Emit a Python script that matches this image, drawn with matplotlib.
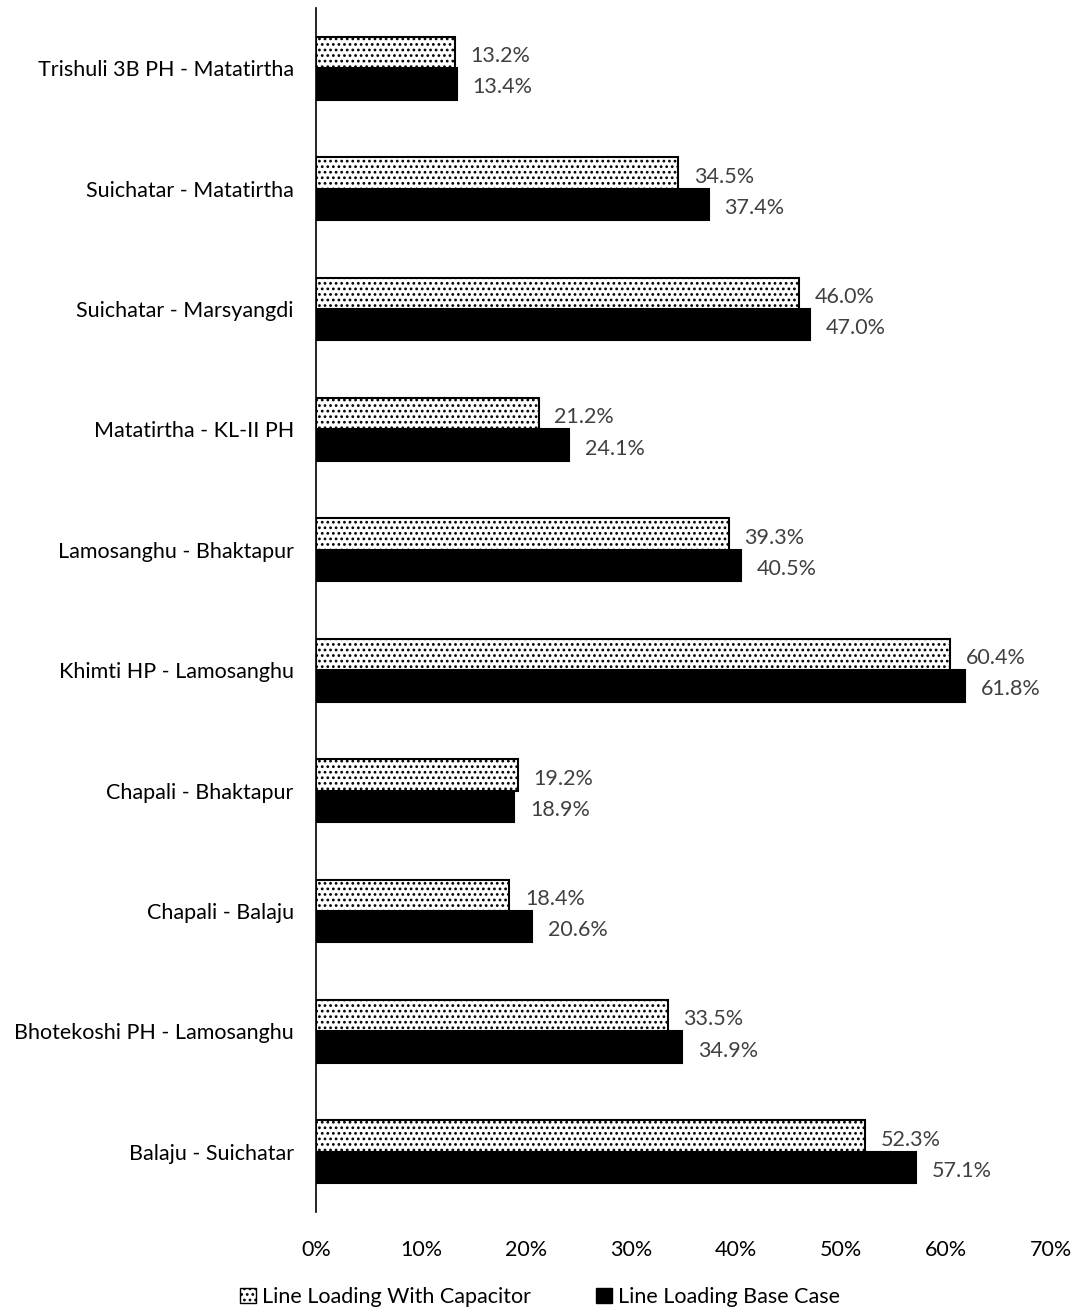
import numpy as np
import matplotlib.pyplot as plt
from matplotlib.ticker import MultipleLocator, FuncFormatter
from matplotlib.patches import Patch

plt.rcParams['font.family'] = ['Lato', 'DejaVu Sans']
plt.rcParams['hatch.linewidth'] = 1.2

# bottom to top, as drawn on the y axis
lines = ["Balaju - Suichatar", "Bhotekoshi PH - Lamosanghu", "Chapali - Balaju",
         "Chapali - Bhaktapur", "Khimti HP - Lamosanghu", "Lamosanghu - Bhaktapur",
         "Matatirtha - KL-II PH", "Suichatar - Marsyangdi", "Suichatar - Matatirtha",
         "Trishuli 3B PH - Matatirtha"]
with_capacitor = [52.3, 33.5, 18.4, 19.2, 60.4, 39.3, 21.2, 46.0, 34.5, 13.2]
base_case = [57.1, 34.9, 20.6, 18.9, 61.8, 40.5, 24.1, 47.0, 37.4, 13.4]

fig = plt.figure(figsize=(10.81, 13.11), dpi=100)
ax = fig.add_axes([316/1081, 1-1212/1311, (1051-316)/1081, (1212-8)/1311])

y = np.arange(len(lines))
h = 0.26
ax.barh(y - h/2, base_case, h, color="black", edgecolor="black", linewidth=1.5)
ax.barh(y + h/2, with_capacitor, h, color="white", edgecolor="black",
        linewidth=1.5, hatch="...")

fs = 15.5
for yi, v in zip(y, base_case):
    ax.text(v + 1.5, yi - h/2 - 0.03, f"{v:.1f}%", va="center", ha="left",
            fontsize=fs, color="#404040")
for yi, v in zip(y, with_capacitor):
    ax.text(v + 1.5, yi + h/2 - 0.03, f"{v:.1f}%", va="center", ha="left",
            fontsize=fs, color="#404040")

ax.set_xlim(0, 70)
ax.set_ylim(-0.5, len(lines) - 0.5)
ax.xaxis.set_major_locator(MultipleLocator(10))
ax.xaxis.set_major_formatter(FuncFormatter(lambda v, p: f"{v:.0f}%"))
ax.set_yticks(y)
ax.set_yticklabels(lines)
ax.tick_params(axis="y", length=0, pad=16, labelsize=fs)
ax.tick_params(axis="x", length=0, pad=20, labelsize=fs)
for s in ["top", "right", "bottom"]:
    ax.spines[s].set_visible(False)
ax.spines["left"].set_linewidth(1.2)

handles = [Patch(facecolor="white", edgecolor="black", hatch="...", label="Line Loading With Capacitor"),
           Patch(facecolor="black", edgecolor="black", label="Line Loading Base Case")]
fig.legend(handles=handles, loc="center", bbox_to_anchor=(540/1081, 1-1297/1311),
           ncol=2, frameon=False, fontsize=fs, handlelength=0.75, handleheight=0.75,
           handletextpad=0.3, columnspacing=3.0)

fig.savefig("out.png", dpi=100)
